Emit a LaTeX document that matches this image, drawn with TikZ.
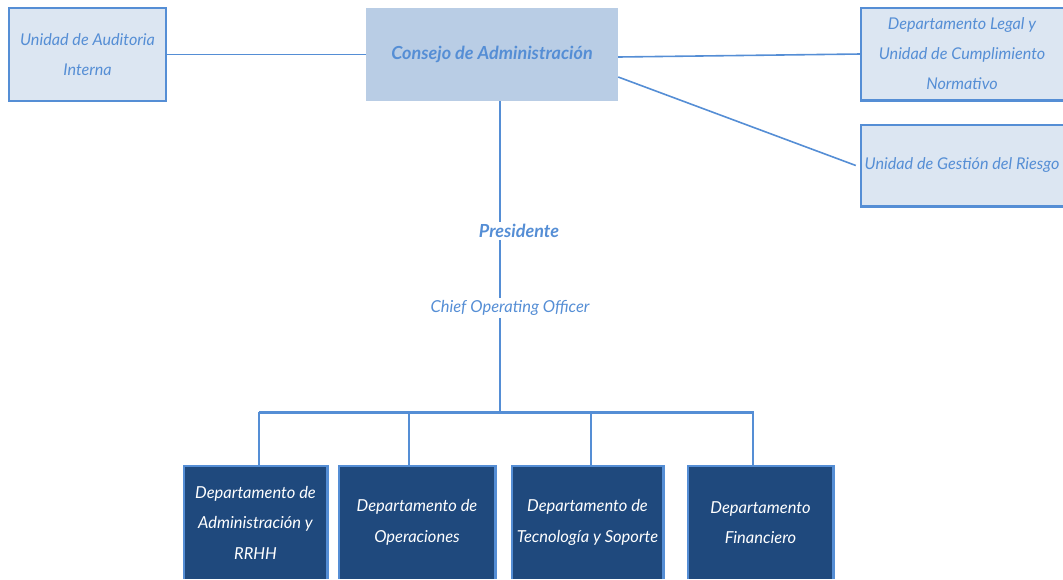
\documentclass[tikz,border=0pt]{standalone}
\usepackage{fontspec}
\setmainfont{Lato}
\usetikzlibrary{calc}
\definecolor{lineblue}{RGB}{85,142,213}
\definecolor{lightfill}{RGB}{220,230,242}
\definecolor{midfill}{RGB}{185,205,229}
\definecolor{darkfill}{RGB}{31,73,125}
\begin{document}
\begin{tikzpicture}[x=1pt,y=-1pt,
  conn/.style={draw=lineblue,line width=1.6pt},
  border/.style={draw=lineblue,line width=2.6pt},
  lightbox/.style={fill=lightfill,inner sep=0pt,align=center,text=lineblue,
    font=\fontsize{16.2}{30}\selectfont\itshape},
  darkbox/.style={fill=darkfill,inner sep=0pt,align=center,text=white,
    font=\fontsize{16.5}{30.5}\selectfont\itshape},
  lbl/.style={text=lineblue,inner sep=2pt}]
\useasboundingbox (0,0) rectangle (1063,579);
% top boxes
\node[lightbox,border,minimum width=157,minimum height=93] (aud) at (87.5,54.5) {Unidad de Auditoria\\Interna};
\node[fill=midfill,minimum width=252,minimum height=93,inner sep=0pt,text=lineblue,
  font=\fontsize{18}{20}\selectfont\bfseries\itshape] (cons) at (492,54.5) {Consejo de Administración\\[17pt]\mbox{}};
\node[lightbox,minimum width=202,minimum height=92] (legal) at (962,54) {Departamento Legal y\\Unidad de Cumplimiento\\Normativo};
\draw[border] (legal.north east) -- (legal.north west) -- (legal.south west) -- (legal.south east);
\node[lightbox,minimum width=202,minimum height=81] (riesgo) at (962,165.5) {Unidad de Gestión del Riesgo};
\draw[border] (riesgo.north east) -- (riesgo.north west) -- (riesgo.south west) -- (riesgo.south east);
% connectors top
\draw[conn] (aud.east) -- (cons.west);
\draw[conn] (cons.east |- 0,57) -- (legal.west);
\draw[conn] (cons.east |- 0,77) -- ($(riesgo.west)+(-5,0)$);
% middle chain
\node[lbl,font=\fontsize{18}{20}\selectfont\bfseries\itshape] (pres) at (519,231) {Presidente};
\node[lbl,font=\fontsize{16.5}{18}\selectfont\itshape] (coo) at (510,308) {Chief Operating Officer};
\coordinate (top) at (500,101);
\coordinate (busm) at (500,412);
\coordinate (busL) at (259,412);
\coordinate (busR) at (754,412);
\draw[conn] (top) -- (top |- pres.north);
\draw[conn] (top |- pres.south) -- (top |- coo.north);
\draw[conn] (top |- coo.south) -- (busm);
\draw[draw=lineblue,line width=3pt] (busL) -- (busR);
% bottom boxes
\node[darkbox,minimum width=143,minimum height=113] (b1) at (255.5,522.5) {Departamento de\\Administración y\\RRHH};
\node[darkbox,minimum width=156,minimum height=113] (b2) at (417,522.5) {Departamento de\\Operaciones};
\node[darkbox,minimum width=151,minimum height=113] (b3) at (587.5,522.5) {Departamento de\\Tecnología y Soporte};
\node[darkbox,minimum width=145,minimum height=113] (b4) at (760.5,522.5) {Departamento\\Financiero};
\foreach \b in {b1,b2,b3,b4}{
  \draw[border] (\b.south west) -- (\b.north west) -- (\b.north east) -- (\b.south east);
}
\coordinate (d1) at (259,412);
\coordinate (d2) at (409,412);
\coordinate (d3) at (591,412);
\coordinate (d4) at (753,412);
\draw[conn] (d1) -- (d1 |- b1.north);
\draw[conn] (d2) -- (d2 |- b2.north);
\draw[conn] (d3) -- (d3 |- b3.north);
\draw[conn] (d4) -- (d4 |- b4.north);
\end{tikzpicture}
\end{document}
